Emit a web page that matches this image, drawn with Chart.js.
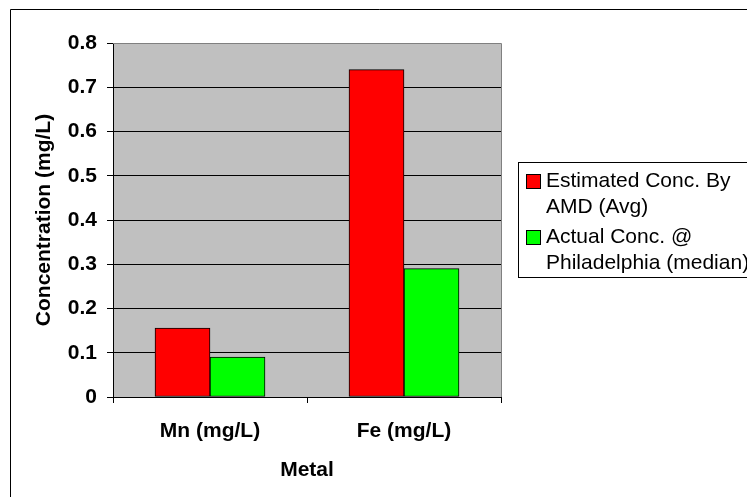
<!DOCTYPE html>
<html>
<head>
<meta charset="utf-8">
<title>Metal concentration</title>
<script src="https://cdn.jsdelivr.net/npm/chart.js@4"></script>
<style>
  html, body { margin: 0; padding: 0; background: #ffffff; }
  #wrap { width: 747px; height: 497px; }
</style>
</head>
<body>
<div id="wrap"><canvas id="chart" width="747" height="497"></canvas></div>
<script>
// Categories (x axis) and the two series plotted against them
const metals = ['Mn (mg/L)', 'Fe (mg/L)'];
const estimatedAMD = [0.156, 0.74];
const actualPhiladelphia = [0.09, 0.29];

// Series names, split into the lines shown in the legend
const seriesLines = [
  ['Estimated Conc. By', 'AMD (Avg)'],
  ['Actual Conc. @', 'Philadelphia (median)']
];

// Value axis tick labels (0 to 0.8 in steps of 0.1)
const yTickLabels = ['0', '0.1', '0.2', '0.3', '0.4', '0.5', '0.6', '0.7', '0.8'];

const FONT = '"Liberation Sans", Arial, sans-serif';

// Outer frame, grey plot background and the grey top/right plot edges
const frame = {
  id: 'frame',
  beforeDraw(chart) {
    const { ctx, chartArea: a } = chart;
    ctx.save();
    ctx.fillStyle = '#ffffff';
    ctx.fillRect(0, 0, chart.width, chart.height);
    ctx.fillStyle = '#c0c0c0';
    ctx.fillRect(a.left, a.top, a.right - a.left, a.bottom - a.top);
    ctx.strokeStyle = '#000000';
    ctx.lineWidth = 1;
    ctx.beginPath();
    ctx.moveTo(10.5, chart.height + 5);
    ctx.lineTo(10.5, 9.5);
    ctx.lineTo(chart.width + 5, 9.5);
    ctx.stroke();
    ctx.restore();
  },
  afterDatasetsDraw(chart) {
    const { ctx, chartArea: a } = chart;
    ctx.save();
    ctx.strokeStyle = '#808080';
    ctx.lineWidth = 1;
    ctx.beginPath();
    ctx.moveTo(a.left, Math.round(a.top) + 0.5);
    ctx.lineTo(Math.round(a.right) + 0.5, Math.round(a.top) + 0.5);
    ctx.lineTo(Math.round(a.right) + 0.5, a.bottom);
    ctx.stroke();
    ctx.restore();
  }
};

// Boxed legend to the right of the plot with wrapped series names
const boxedLegend = {
  id: 'boxedLegend',
  afterDraw(chart) {
    const { ctx } = chart;
    const boxLeft = 518.5, boxTop = 162.5, boxBottom = 277.5;
    const textX = 546, lineH = 25.5, itemGap = 5;
    ctx.save();
    ctx.strokeStyle = '#000000';
    ctx.lineWidth = 1;
    ctx.strokeRect(boxLeft, boxTop, chart.width + 10 - boxLeft, boxBottom - boxTop);
    ctx.font = '21px ' + FONT;
    ctx.fillStyle = '#000000';
    ctx.textAlign = 'left';
    ctx.textBaseline = 'middle';
    let y = 181.5;
    chart.data.datasets.forEach((ds, i) => {
      const lines = seriesLines[i];
      ctx.fillStyle = ds.backgroundColor;
      ctx.fillRect(526.5, y - 7, 14, 14);
      ctx.strokeStyle = '#000000';
      ctx.strokeRect(526.5, y - 7, 14, 14);
      ctx.fillStyle = '#000000';
      lines.forEach((t, k) => ctx.fillText(t, textX, y + k * lineH));
      y += lines.length * lineH + itemGap;
    });
    ctx.restore();
  }
};

new Chart(document.getElementById('chart'), {
  type: 'bar',
  data: {
    labels: metals,
    datasets: [
      {
        label: seriesLines[0].join(' '),
        data: estimatedAMD,
        backgroundColor: '#ff0000',
        borderColor: '#000000',
        borderWidth: 1,
        borderSkipped: false
      },
      {
        label: seriesLines[1].join(' '),
        data: actualPhiladelphia,
        backgroundColor: '#00ff00',
        borderColor: '#000000',
        borderWidth: 1,
        borderSkipped: false
      }
    ]
  },
  options: {
    responsive: false,
    animation: false,
    devicePixelRatio: 1,
    datasets: { bar: { barThickness: 55 } },
    layout: { padding: { left: 0, top: 43, right: 246, bottom: 0 } },
    plugins: {
      legend: { display: false },
      tooltip: { enabled: false },
      title: { display: false }
    },
    scales: {
      x: {
        afterFit(scale) { scale.height = 100; },
        grid: {
          offset: true,
          drawOnChartArea: false,
          drawTicks: true,
          tickLength: 6,
          tickColor: '#000000'
        },
        border: { color: '#000000', width: 1 },
        ticks: {
          color: '#000000',
          padding: 16,
          font: { family: FONT, size: 21, weight: 'bold' }
        },
        title: {
          display: true,
          text: 'Metal',
          color: '#000000',
          padding: { top: 0, bottom: 14 },
          font: { family: FONT, size: 21, weight: 'bold' }
        }
      },
      y: {
        min: 0,
        max: 0.8,
        afterFit(scale) { scale.width = 113; },
        grid: {
          color: (c) => (c.tick && c.tick.value >= 0.8 ? '#808080' : '#000000'),
          lineWidth: 1,
          drawTicks: true,
          tickLength: 6,
          tickColor: '#000000'
        },
        border: { color: '#000000', width: 1 },
        ticks: {
          stepSize: 0.1,
          color: '#000000',
          padding: 10,
          font: { family: FONT, size: 21, weight: 'bold' },
          callback: (v, i) => yTickLabels[i]
        },
        title: {
          display: true,
          text: 'Concentration (mg/L)',
          color: '#000000',
          padding: { top: 32, bottom: 0 },
          font: { family: FONT, size: 21, weight: 'bold' }
        }
      }
    }
  },
  plugins: [frame, boxedLegend]
});
</script>
</body>
</html>
